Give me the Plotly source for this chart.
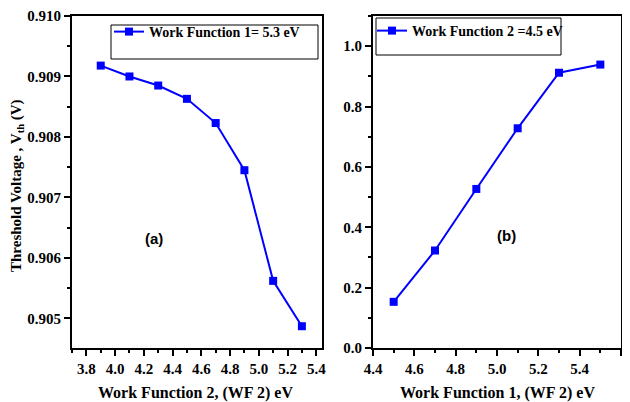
import plotly.graph_objects as go

# Panel (a)
wf2_a = [3.9, 4.1, 4.3, 4.5, 4.7, 4.9, 5.1, 5.3]
vth_a = [0.90918, 0.90900, 0.90885, 0.90863, 0.90823, 0.90745, 0.90562, 0.90487]
legend_a = "Work Function 1= 5.3 eV"

# Panel (b)
wf1_b = [4.5, 4.7, 4.9, 5.1, 5.3, 5.5]
vth_b = [0.153, 0.323, 0.527, 0.728, 0.912, 0.939]
legend_b = "Work Function 2 =4.5 eV"

BLUE = "#0000FF"
SERIF = "Liberation Serif"
SANS = "Liberation Sans"

# page has an 8px body margin; figure sized to fit the 630x402 window
OFF = 8
W, H = 630 - OFF, 402 - OFF


def px(x):
    return (x - OFF) / W


def py(y):
    return 1 - (y - OFF) / H


fig = go.Figure()
fig.add_trace(go.Scatter(x=wf2_a, y=vth_a, mode="lines+markers", name=legend_a,
                         line=dict(color=BLUE, width=2),
                         marker=dict(symbol="square", size=8, color=BLUE),
                         xaxis="x", yaxis="y", legend="legend"))
fig.add_trace(go.Scatter(x=wf1_b, y=vth_b, mode="lines+markers", name=legend_b,
                         line=dict(color=BLUE, width=2),
                         marker=dict(symbol="square", size=8, color=BLUE),
                         xaxis="x2", yaxis="y2", legend="legend2"))

ydom = [py(348), py(16)]
tickfont = dict(family=SERIF, size=15, color="black", weight="bold")
minor = dict(ticklen=3, tickwidth=1.5, ticks="outside", tickcolor="black")

common = dict(showline=True, linecolor="black", linewidth=2, mirror=True,
              ticks="outside", ticklen=6, tickwidth=1.5, tickcolor="black",
              showgrid=False, zeroline=False, tickfont=tickfont, automargin=False)

fig.update_layout(
    width=W, height=H,
    margin=dict(l=0, r=0, t=0, b=0, autoexpand=False),
    paper_bgcolor="white", plot_bgcolor="white",
    showlegend=True,
    xaxis=dict(domain=[px(72), px(322)], range=[3.7, 5.44], dtick=0.2, tick0=3.8,
               tickformat=".1f", anchor="y", minor=dict(dtick=0.1, **minor), **common),
    yaxis=dict(domain=ydom, range=[0.90451, 0.910], dtick=0.001, tick0=0.905,
               tickformat=".3f", anchor="x", minor=dict(dtick=0.0005, **minor), **common),
    xaxis2=dict(domain=[px(373), px(621)], range=[4.4, 5.6], dtick=0.2, tick0=4.4,
                tickformat=".1f", anchor="y2", minor=dict(dtick=0.1, **minor), **common),
    yaxis2=dict(domain=ydom, range=[0, 1.1], dtick=0.2, tick0=0,
                tickformat=".1f", anchor="x2", minor=dict(dtick=0.1, **minor), **common),
    legend=dict(x=px(109), y=py(16), xanchor="left", yanchor="top",
                bgcolor="rgba(0,0,0,0)", borderwidth=0,
                font=dict(family=SERIF, size=14, color="black", weight="bold"),
                itemwidth=30, tracegroupgap=0),
    legend2=dict(x=px(372), y=py(15), xanchor="left", yanchor="top",
                 bgcolor="rgba(0,0,0,0)", borderwidth=0,
                 font=dict(family=SERIF, size=14, color="black", weight="bold"),
                 itemwidth=30, tracegroupgap=0),
    shapes=[
        dict(type="rect", xref="paper", yref="paper",
             x0=px(111), x1=px(318), y0=py(59), y1=py(25),
             line=dict(color="black", width=1), fillcolor="rgba(0,0,0,0)"),
        dict(type="rect", xref="paper", yref="paper",
             x0=px(376), x1=px(561), y0=py(55), y1=py(18),
             line=dict(color="black", width=1), fillcolor="rgba(0,0,0,0)"),
    ],
    annotations=[
        dict(text="Threshold Voltage , V<sub>th</sub> (V)", xref="paper", yref="paper",
             x=px(17), y=py(186), textangle=-90, showarrow=False,
             xanchor="center", yanchor="middle",
             font=dict(family=SERIF, size=15, color="black", weight="bold")),
        dict(text="Work Function 2, (WF 2) eV", xref="paper", yref="paper",
             x=px(195), y=py(393), showarrow=False, xanchor="center", yanchor="middle",
             font=dict(family=SERIF, size=16, color="black", weight="bold")),
        dict(text="Work Function 1, (WF 2) eV", xref="paper", yref="paper",
             x=px(497), y=py(393), showarrow=False, xanchor="center", yanchor="middle",
             font=dict(family=SERIF, size=16, color="black", weight="bold")),
        dict(text="(a)", xref="paper", yref="paper",
             x=px(154), y=py(238), showarrow=False, xanchor="center", yanchor="middle",
             font=dict(family=SANS, size=15, color="black", weight="bold")),
        dict(text="(b)", xref="paper", yref="paper",
             x=px(506), y=py(236), showarrow=False, xanchor="center", yanchor="middle",
             font=dict(family=SANS, size=15, color="black", weight="bold")),
    ],
)

fig.write_html("out.html")
